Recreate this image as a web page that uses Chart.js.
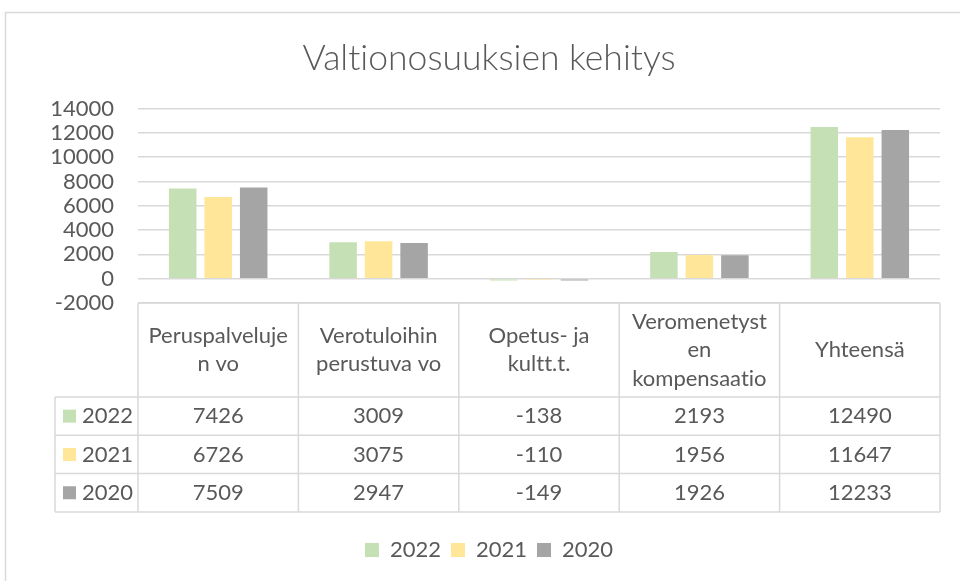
<!DOCTYPE html>
<html>
<head>
<meta charset="utf-8">
<script src="https://cdn.jsdelivr.net/npm/chart.js@4/dist/chart.umd.min.js"></script>
<style>
  html, body { margin: 0; padding: 0; background: #ffffff; }
  #wrap { width: 960px; height: 581px; position: relative; }
  canvas { font-variant-ligatures: none; }
</style>
</head>
<body>
<div id="wrap"><canvas id="c" width="960" height="581"></canvas></div>
<script>
const titleText = 'Valtionosuuksien kehitys';
const categories = [
  ['Peruspalveluje', 'n vo'],
  ['Verotuloihin', 'perustuva vo'],
  ['Opetus- ja', 'kultt.t.'],
  ['Veromenetyst', 'en', 'kompensaatio'],
  ['Yhteensä']
];
const seriesNames = ['2022', '2021', '2020'];
const values2022 = [7426, 3009, -138, 2193, 12490];
const values2021 = [6726, 3075, -110, 1956, 11647];
const values2020 = [7509, 2947, -149, 1926, 12233];
const yMin = -2000;
const yMax = 14000;
const yStep = 2000;

const seriesColors = ['#C5E0B4', '#FFE699', '#A5A5A5'];
const textColor = '#595959';
const lineColor = '#D9D9D9';
const FONT = 'Lato, "Open Sans", sans-serif';
const FS = 22;

const framePlugin = {
  id: 'frame',
  beforeDraw(chart) {
    const ctx = chart.ctx;
    try { ctx.textRendering = 'optimizeSpeed'; } catch (e) {}
    ctx.save();
    ctx.fillStyle = '#ffffff';
    ctx.fillRect(0, 0, chart.width, chart.height);
    ctx.strokeStyle = lineColor;
    ctx.lineWidth = 1.5;
    ctx.beginPath();
    ctx.moveTo(5.5, chart.height);
    ctx.lineTo(5.5, 12.5);
    ctx.lineTo(chart.width, 12.5);
    ctx.stroke();
    ctx.restore();
  }
};

const tablePlugin = {
  id: 'dataTable',
  afterDraw(chart) {
    const ctx = chart.ctx;
    const xs = chart.scales.x;
    const area = chart.chartArea;
    const n = chart.data.labels.length;
    const step = xs.getPixelForValue(1) - xs.getPixelForValue(0);
    const left = xs.getPixelForValue(0) - step / 2;
    const right = left + step * n;
    const top = area.bottom;
    const headH = 94;
    const rowH = 38.3;
    const labelLeft = 55;
    const dsets = chart.data.datasets;
    const bottom = top + headH + rowH * dsets.length;

    ctx.save();
    ctx.strokeStyle = lineColor;
    ctx.lineWidth = 1.5;
    ctx.beginPath();
    ctx.moveTo(left, top); ctx.lineTo(right, top);
    for (let r = 0; r <= dsets.length; r++) {
      const y = top + headH + r * rowH;
      ctx.moveTo(labelLeft, y); ctx.lineTo(right, y);
    }
    for (let c = 0; c <= n; c++) {
      const x = left + c * step;
      ctx.moveTo(x, top); ctx.lineTo(x, bottom);
    }
    ctx.moveTo(labelLeft, top + headH); ctx.lineTo(labelLeft, bottom);
    ctx.stroke();

    ctx.fillStyle = textColor;
    ctx.font = FS + 'px ' + FONT;
    ctx.textAlign = 'center';
    ctx.textBaseline = 'middle';
    const lh = 28.5;
    chart.data.labels.forEach((lab, i) => {
      const lines = Array.isArray(lab) ? lab : [lab];
      const cx = xs.getPixelForValue(i);
      const cy = top + headH / 2;
      lines.forEach((t, k) => {
        ctx.fillText(t, cx, cy + (k - (lines.length - 1) / 2) * lh);
      });
    });

    dsets.forEach((ds, r) => {
      const cy = top + headH + r * rowH + rowH / 2;
      ctx.fillStyle = ds.backgroundColor;
      ctx.fillRect(63, cy - 6.5, 13, 13);
      ctx.fillStyle = textColor;
      ctx.textAlign = 'left';
      ctx.fillText(ds.label, 82, cy);
      ctx.textAlign = 'center';
      ds.data.forEach((v, i) => {
        ctx.fillText(String(v), xs.getPixelForValue(i), cy);
      });
    });
    ctx.restore();
  }
};

const datasets = [values2022, values2021, values2020].map((vals, i) => ({
  label: seriesNames[i],
  data: vals,
  backgroundColor: seriesColors[i],
  borderWidth: 0,
  categoryPercentage: 0.664,
  barPercentage: 0.775
}));

new Chart(document.getElementById('c'), {
  type: 'bar',
  data: { labels: categories, datasets },
  plugins: [framePlugin, tablePlugin],
  options: {
    responsive: false,
    animation: false,
    layout: { padding: { top: 17, right: 20, bottom: 10, left: 38 } },
    plugins: {
      title: {
        display: true,
        text: titleText,
        color: textColor,
        font: { family: FONT, size: 35.5, weight: '300' },
        padding: { top: 20, bottom: 29 }
      },
      legend: {
        display: true,
        position: 'bottom',
        labels: {
          color: textColor,
          font: { family: FONT, size: FS },
          boxWidth: 14,
          boxHeight: 14,
          padding: 10
        }
      },
      tooltip: { enabled: false }
    },
    scales: {
      x: {
        ticks: { display: false },
        grid: { display: false },
        border: { display: false },
        afterFit(scale) { scale.height = 226; }
      },
      y: {
        min: yMin,
        max: yMax,
        ticks: {
          stepSize: yStep,
          autoSkip: false,
          color: textColor,
          font: { family: FONT, size: FS },
          padding: 24,
          callback: (v) => String(v)
        },
        grid: { color: lineColor, lineWidth: 1.5, drawTicks: false },
        border: { display: false },
        afterFit(scale) { scale.width = 100; }
      }
    }
  }
});
</script>
</body>
</html>
